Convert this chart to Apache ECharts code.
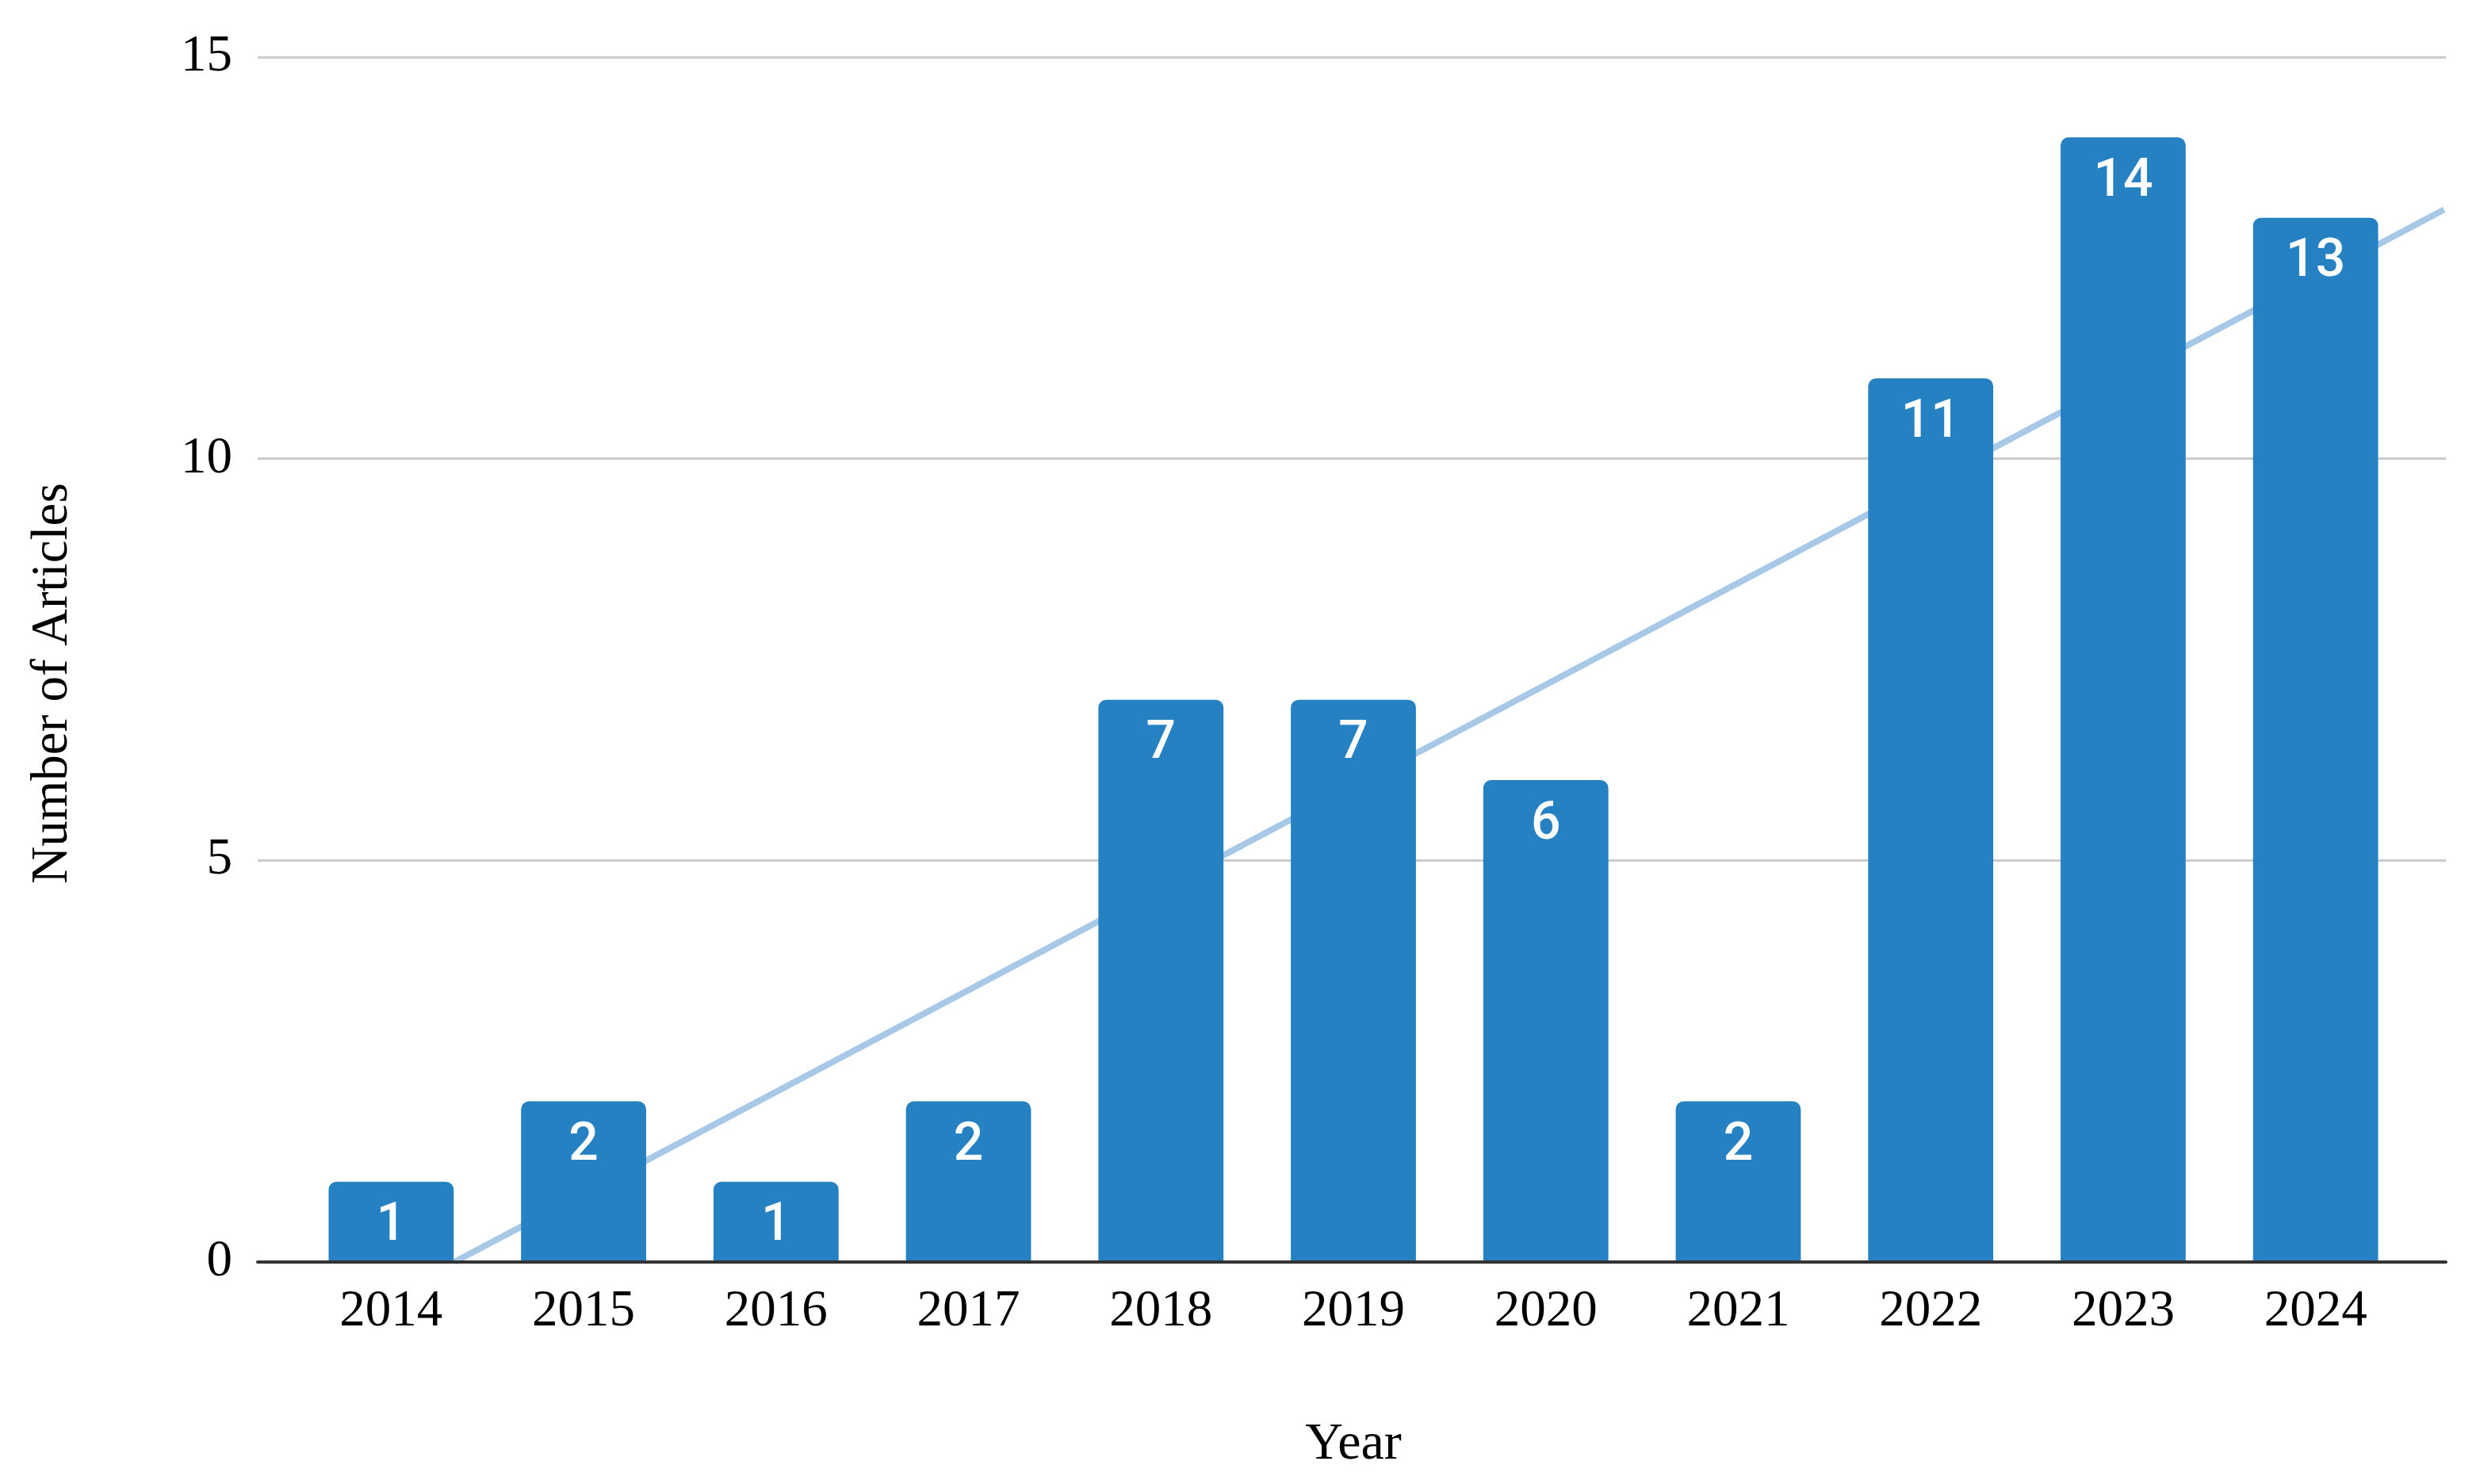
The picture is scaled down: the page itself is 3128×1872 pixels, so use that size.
<!DOCTYPE html>
<html>
<head>
<meta charset="utf-8">
<script src="https://cdn.jsdelivr.net/npm/echarts@6/dist/echarts.min.js"></script>
<style>
html,body{margin:0;padding:0;background:#fff;}
#chart{width:3128px;height:1872px;}
</style>
</head>
<body>
<div id="chart"></div>
<script>
const categories = ['2014','2015','2016','2017','2018','2019','2020','2021','2022','2023','2024'];
const articles = [1,2,1,2,7,7,6,2,11,14,13];
const trendX = [0.33, 10.67];
const trendY = [0, 13.1];
const yTicks = [0, 5, 10, 15];

const chart = echarts.init(document.getElementById('chart'), null, {renderer:'canvas'});
const serif = '"Liberation Serif", "Times New Roman", serif';
chart.setOption({
  backgroundColor:'#ffffff',
  animation:false,
  grid:[
    {left:325, right:43, top:72, bottom:280},
    {left:372, right:86, top:72, bottom:280}
  ],
  xAxis:[
    {gridIndex:0, type:'value', min:-0.692, max:10.68, z:10,
     axisLine:{show:true, onZero:false, lineStyle:{color:'#333333', width:4}},
     axisTick:{show:false}, axisLabel:{show:false}, splitLine:{show:false}},
    {gridIndex:1, type:'category', data:categories,
     axisLine:{show:false}, axisTick:{show:false},
     axisLabel:{color:'#000', fontFamily:serif, fontSize:65, margin:30},
     name:'Year', nameLocation:'middle', nameGap:198,
     nameTextStyle:{color:'#000', fontFamily:serif, fontSize:66}}
  ],
  yAxis:[
    {gridIndex:0, type:'value', min:yTicks[0], max:yTicks[yTicks.length-1], interval:5,
     axisLine:{show:false}, axisTick:{show:false},
     axisLabel:{color:'#000', fontFamily:serif, fontSize:65, margin:32},
     splitLine:{show:true, lineStyle:{color:'#cccccc', width:3}},
     name:'Number of Articles', nameLocation:'middle', nameGap:226,
     nameTextStyle:{color:'#000', fontFamily:serif, fontSize:65, padding:[0,60,0,0]}},
    {gridIndex:1, type:'value', min:0, max:15, show:false}
  ],
  series:[
    {type:'line', xAxisIndex:0, yAxisIndex:0, z:1, symbol:'none',
     lineStyle:{color:'#a8c8e8', width:8},
     data:trendX.map((x,i)=>[x, trendY[i]])},
    {type:'bar', xAxisIndex:1, yAxisIndex:1, z:3, barWidth:'65%',
     data:articles,
     itemStyle:{color:'#2581c1', borderRadius:[10,10,0,0]},
     label:{show:true, position:'insideTop', distance:24, color:'#ffffff',
            fontFamily:'Roboto, "Noto Sans", sans-serif', fontWeight:500, fontSize:66}}
  ]
});
</script>
</body>
</html>
